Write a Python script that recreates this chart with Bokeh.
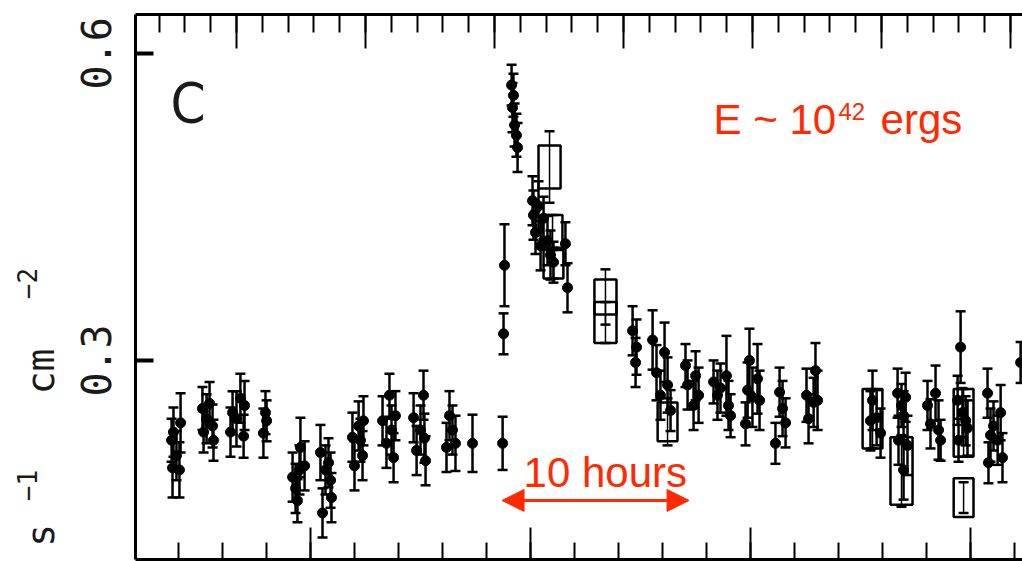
import math
from bokeh.plotting import figure
from bokeh.layouts import row
from bokeh.models import (Range1d, LinearAxis, SingleIntervalTicker, FixedTicker,
                          Whisker, TeeHead, ColumnDataSource, Label, Arrow, NormalHead,
                          CustomJSTickFormatter)
from bokeh.embed import file_html
from bokeh.resources import INLINE

# ---------------- data ----------------
# time in hours, flux (photons s^-1 cm^-2) and 1-sigma error for the point data
t_hours = [1.93, 2.03, 1.98, 2.35, 2.41, 2.19,
           3.58, 3.64, 3.96, 4.12, 3.80, 4.17,
           5.08, 5.19, 5.61, 5.78, 5.40, 5.83,
           6.95, 6.84, 7.01,
           8.40, 8.56, 8.66, 8.77, 8.82, 9.04,
           9.89, 10.00, 10.16, 10.32, 10.43, 10.48,
           11.60, 11.71, 11.93, 12.03, 12.14, 12.19,
           13.21, 13.42, 13.58, 13.69, 13.80, 13.90,
           14.87, 15.03, 15.24, 15.40, 15.45, 15.51,
           16.63, 16.79, 16.95, 17.11,
           18.02, 19.63,
           19.73, 19.68, 20.11, 20.21, 20.16, 20.27, 20.37, 20.43,
           21.23, 21.28, 21.39, 21.55, 21.82, 21.66,
           22.03, 22.19, 22.35, 22.99, 23.10,
           26.58, 26.79, 26.74, 27.65, 27.86, 28.07, 28.29, 28.45, 28.61,
           29.41, 29.52, 29.95, 30.11, 29.84,
           30.91, 31.12, 31.28, 31.60, 31.71, 31.82,
           32.62, 32.73, 32.83, 32.99, 33.26, 33.37,
           34.22, 34.44, 34.60, 34.76,
           35.88, 35.99, 36.26, 36.36, 36.47,
           39.41, 39.63, 39.84, 39.30,
           40.75, 40.96, 41.18, 41.07, 41.28, 41.07, 40.80,
           42.35, 42.51, 42.78, 42.94, 43.05,
           44.12, 43.96, 44.22, 44.49, 44.01, 44.39,
           45.56, 45.72, 45.88, 45.61, 46.26, 46.36, 46.10, 47.33]
flux = [0.222, 0.230, 0.195, 0.193, 0.239, 0.207,
        0.253, 0.230, 0.258, 0.236, 0.243, 0.222,
        0.230, 0.249, 0.263, 0.226, 0.243, 0.256,
        0.249, 0.229, 0.241,
        0.186, 0.175, 0.163, 0.193, 0.215, 0.197,
        0.210, 0.151, 0.193, 0.200, 0.183, 0.166,
        0.225, 0.197, 0.236, 0.222, 0.207, 0.241,
        0.241, 0.219, 0.266, 0.232, 0.205, 0.246,
        0.244, 0.212, 0.232, 0.266, 0.224, 0.202,
        0.215, 0.246, 0.232, 0.219,
        0.219, 0.219,
        0.393, 0.326, 0.569, 0.559, 0.547, 0.530, 0.520, 0.508,
        0.456, 0.442, 0.425, 0.451, 0.439, 0.412,
        0.417, 0.403, 0.396, 0.414, 0.371,
        0.329, 0.313, 0.298, 0.320, 0.288, 0.266, 0.308, 0.276, 0.251,
        0.295, 0.276, 0.285, 0.266, 0.256,
        0.279, 0.266, 0.273, 0.285, 0.256, 0.246,
        0.238, 0.271, 0.300, 0.264, 0.282, 0.261,
        0.219, 0.269, 0.253, 0.239,
        0.266, 0.243, 0.259, 0.290, 0.261,
        0.261, 0.244, 0.229, 0.241,
        0.268, 0.256, 0.264, 0.246, 0.217, 0.193, 0.222,
        0.256, 0.238, 0.268, 0.232, 0.222,
        0.313, 0.261, 0.249, 0.234, 0.222, 0.241,
        0.268, 0.227, 0.236, 0.200, 0.249, 0.205, 0.222, 0.298]
flux_err = [0.021, 0.024, 0.029, 0.027, 0.029, 0.024,
            0.021, 0.020, 0.021, 0.021, 0.024, 0.020,
            0.024, 0.021, 0.024, 0.021, 0.027, 0.024,
            0.021, 0.024, 0.020,
            0.024, 0.024, 0.021, 0.024, 0.029, 0.024,
            0.027, 0.024, 0.024, 0.024, 0.027, 0.024,
            0.024, 0.024, 0.024, 0.021, 0.024, 0.024,
            0.024, 0.024, 0.021, 0.024, 0.024, 0.024,
            0.024, 0.024, 0.024, 0.024, 0.024, 0.024,
            0.024, 0.024, 0.024, 0.027,
            0.028, 0.026,
            0.040, 0.020, 0.020, 0.021, 0.024, 0.021, 0.021, 0.024,
            0.024, 0.024, 0.021, 0.024, 0.021, 0.024,
            0.024, 0.024, 0.020, 0.021, 0.024,
            0.024, 0.027, 0.024, 0.029, 0.027, 0.024, 0.029, 0.027, 0.020,
            0.021, 0.024, 0.024, 0.027, 0.024,
            0.021, 0.024, 0.024, 0.039, 0.024, 0.021,
            0.021, 0.027, 0.031, 0.029, 0.034, 0.029,
            0.020, 0.024, 0.027, 0.024,
            0.026, 0.024, 0.024, 0.027, 0.029,
            0.029, 0.027, 0.024, 0.029,
            0.024, 0.021, 0.024, 0.024, 0.029, 0.029, 0.024,
            0.024, 0.024, 0.027, 0.029, 0.020,
            0.035, 0.024, 0.024, 0.027, 0.021, 0.024,
            0.024, 0.026, 0.024, 0.020, 0.027, 0.024, 0.024, 0.020]

# binned data drawn as open boxes: centre time, half bin width, flux, half height, error
box_t = [22.14, 22.30, 22.35, 25.13, 25.13, 28.45, 39.41, 40.96, 44.28, 44.28]
box_half_dt = [0.59, 0.53, 0.53, 0.59, 0.59, 0.53, 0.53, 0.59, 0.53, 0.53]
box_flux = [0.489, 0.425, 0.395, 0.362, 0.337, 0.240, 0.243, 0.192, 0.239, 0.166]
box_half_df = [0.021, 0.017, 0.015, 0.017, 0.020, 0.019, 0.029, 0.033, 0.033, 0.019]
box_err = [0.035, 0.017, 0.015, 0.027, 0.020, 0.023, 0.029, 0.035, 0.033, 0.015]

y_ticks = [0.3, 0.6]
y_label_parts = ["s", "\u22121", "cm", "\u22122"]
flare_duration_hours = 10.0
flare_start_hours = 19.6

mono = "DejaVu Sans Mono"
sans = "Liberation Sans"
red = "#ff2a00"
ink = "#1a1a1a"

# ---------------- left strip holding the rotated axis title ----------------
lab = figure(width=62, height=561, output_backend="svg", toolbar_location=None,
             x_range=Range1d(0, 62), y_range=Range1d(561, 0),
             x_axis_location=None, y_axis_location=None,
             min_border=0, outline_line_color=None)
lab.xgrid.visible = False
lab.ygrid.visible = False
lab.background_fill_color = "white"
lab.border_fill_color = "white"
for txt, x, y, size in zip(y_label_parts, [40, 26, 40, 26], [548, 501, 391, 293],
                           ["38px", "26px", "38px", "26px"]):
    lab.add_layout(Label(x=x, y=y, text=txt, angle=math.pi / 2, text_font=mono,
                         text_font_size=size, text_color=ink,
                         text_align="left", text_baseline="alphabetic"))

# ---------------- main figure ----------------
p = figure(width=960, height=561, output_backend="svg", toolbar_location=None,
           x_range=Range1d(0, 47.43), y_range=Range1d(0.1055, 0.638),
           x_axis_location=None, y_axis_location=None,
           min_border_left=73, min_border_top=14, min_border_bottom=2, min_border_right=0)
p.background_fill_color = "white"
p.border_fill_color = "white"
p.outline_line_color = None
p.xgrid.visible = False
p.ygrid.visible = False

p.extra_x_ranges = {"top": Range1d(0.217, 7.093), "bot": Range1d(0.2045, 4.236)}

def tick_axis(range_name, major_in, minor_in):
    return LinearAxis(x_range_name=range_name,
                      ticker=SingleIntervalTicker(interval=1, num_minor_ticks=5),
                      formatter=CustomJSTickFormatter(code="return ''"),
                      major_tick_in=major_in, major_tick_out=0,
                      minor_tick_in=minor_in, minor_tick_out=0,
                      major_tick_line_width=2, minor_tick_line_width=2,
                      major_tick_line_color="black", minor_tick_line_color="black",
                      axis_line_width=3, axis_line_color="black",
                      major_label_text_font_size="1px", major_label_standoff=0)

p.add_layout(tick_axis("top", 34, 18), "above")
p.add_layout(tick_axis("bot", 32, 17), "below")

yax = LinearAxis(ticker=FixedTicker(ticks=y_ticks, minor_ticks=[]),
                 major_tick_in=18, major_tick_out=0, major_tick_line_width=4,
                 major_tick_line_color="black",
                 axis_line_width=3, axis_line_color="black",
                 major_label_orientation="vertical",
                 major_label_text_font=mono,
                 major_label_text_font_size="40px",
                 major_label_text_color=ink,
                 major_label_standoff=24)
p.add_layout(yax, "left")

# ---------------- data glyphs ----------------
src = ColumnDataSource(dict(t=t_hours, f=flux,
                            lo=[f - e for f, e in zip(flux, flux_err)],
                            hi=[f + e for f, e in zip(flux, flux_err)]))
p.add_layout(Whisker(source=src, base="t", lower="lo", upper="hi", dimension="height",
                     line_color="black", line_width=2.5,
                     upper_head=TeeHead(size=10, line_width=2.5, line_color="black"),
                     lower_head=TeeHead(size=10, line_width=2.5, line_color="black")))
p.scatter("t", "f", source=src, size=10, marker="circle", color="black")

bsrc = ColumnDataSource(dict(t=box_t, f=box_flux,
                             w=[2 * d for d in box_half_dt], h=[2 * d for d in box_half_df],
                             lo=[f - e for f, e in zip(box_flux, box_err)],
                             hi=[f + e for f, e in zip(box_flux, box_err)]))
p.rect("t", "f", width="w", height="h", source=bsrc, fill_color=None,
       line_color="black", line_width=2.5)
p.add_layout(Whisker(source=bsrc, base="t", lower="lo", upper="hi", dimension="height",
                     line_color="black", line_width=1.5,
                     upper_head=TeeHead(size=10, line_width=2.5, line_color="black"),
                     lower_head=TeeHead(size=10, line_width=2.5, line_color="black")))

# ---------------- annotations ----------------
p.add_layout(Label(x=1.87, y=0.5521, text="C",
                   text_font="Liberation Sans Narrow, DejaVu Sans Condensed, sans-serif",
                   text_font_size="56px", text_color=ink,
                   text_align="left", text_baseline="alphabetic"))

p.add_layout(Label(x=30.91, y=0.5355, text="E ~ 10", text_font=sans, text_font_size="42px",
                   text_color=red, text_align="left", text_baseline="alphabetic"))
p.add_layout(Label(x=37.59, y=0.5435, text="42", text_font=sans, text_font_size="24px",
                   text_color=red, text_align="left", text_baseline="alphabetic"))
p.add_layout(Label(x=39.84, y=0.5355, text="ergs", text_font=sans, text_font_size="42px",
                   text_color=red, text_align="left", text_baseline="alphabetic"))

p.add_layout(Label(x=20.75, y=0.1906, text="10 hours", text_font=sans, text_font_size="42px",
                   text_color=red, text_align="left", text_baseline="alphabetic"))
p.add_layout(Arrow(x_start=flare_start_hours, x_end=flare_start_hours + flare_duration_hours,
                   y_start=0.1632, y_end=0.1632, line_color=red, line_width=3,
                   start=NormalHead(size=22, fill_color=red, line_color=red, line_width=1),
                   end=NormalHead(size=22, fill_color=red, line_color=red, line_width=1)))

layout = row(lab, p, spacing=0)
open("out.html", "w").write(file_html(layout, INLINE))
